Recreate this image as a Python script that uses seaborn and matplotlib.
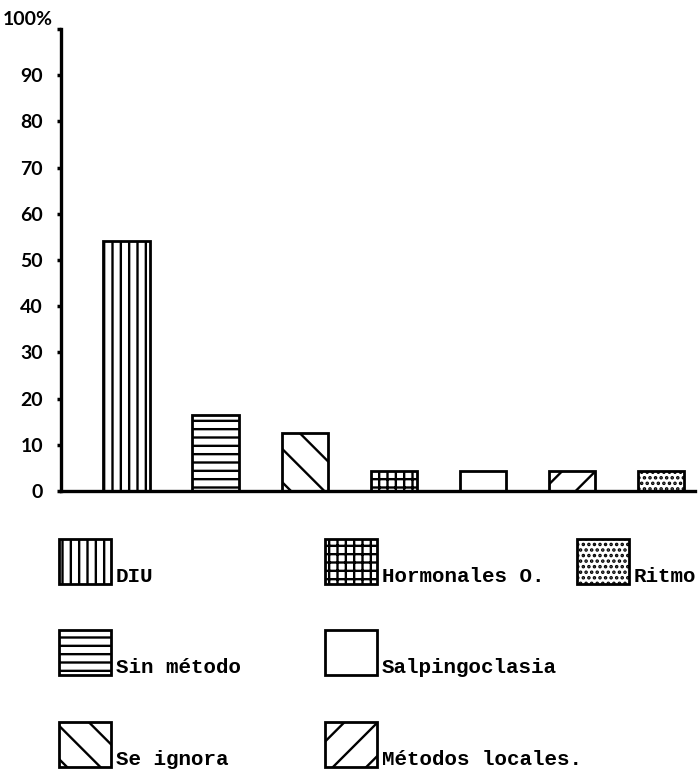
import numpy as np
import pandas as pd
import matplotlib
matplotlib.use("Agg")
import matplotlib.pyplot as plt
import seaborn as sns
from matplotlib.patches import Rectangle

# ---- data ----
categories = ["DIU", "Sin método", "Se ignora", "Hormonales O.",
              "Salpingoclasia", "Métodos locales.", "Ritmo"]
values = [54.2, 16.5, 12.5, 4.3, 4.3, 4.3, 4.4]
hatches = ["||", "--", "\\", "++", "", "/", "..."]
ytick_values = [0, 10, 20, 30, 40, 50, 60, 70, 80, 90]
ytick_labels = ["0", "10", "20", "30", "40", "50", "60", "70", "80", "90"]
top_label = "100%"
legend_columns = [["DIU", "Sin método", "Se ignora"],
                  ["Hormonales O.", "Salpingoclasia", "Métodos locales."],
                  ["Ritmo"]]

sns.set_theme(style="white")
plt.rcParams["font.family"] = ["Lato", "DejaVu Sans"]
plt.rcParams["hatch.linewidth"] = 1.7
plt.rcParams["hatch.color"] = "black"

W, H = 699, 773
fig = plt.figure(figsize=(W / 100, H / 100), dpi=100)
fig.patch.set_facecolor("white")

ax = fig.add_axes([61 / W, 1 - 491 / H, (695 - 61) / W, (491 - 29) / H])
df = pd.DataFrame({"cat": categories, "val": values})
sns.barplot(data=df, x="cat", y="val", ax=ax, color="white",
            edgecolor="black", linewidth=2.0, width=0.52, saturation=1)
for patch, h in zip(ax.patches, hatches):
    patch.set_hatch(h)
    patch.set_edgecolor("black")
    patch.set_facecolor("white")

ax.set_xlim(-0.735, 6.38)
ax.set_ylim(0, 100)
ax.set_xticks([])
ax.set_xlabel("")
ax.set_ylabel("")
ax.set_yticks(ytick_values + [100])
ax.set_yticklabels(ytick_labels + [""])
ax.tick_params(axis="y", left=True, length=3, width=2.5, color="black",
               labelsize=14, pad=10, labelcolor="black")
for lab in ax.get_yticklabels():
    lab.set_fontweight("bold")
for s in ["top", "right"]:
    ax.spines[s].set_visible(False)
for s in ["left", "bottom"]:
    ax.spines[s].set_color("black")
    ax.spines[s].set_linewidth(2.4)
ax.annotate(top_label, xy=(0, 100), xycoords=("axes fraction", "data"),
            xytext=(-8, 1), textcoords="offset pixels",
            ha="right", va="bottom", fontsize=14, fontweight="bold",
            color="black")

# ---- legend drawn in pixel coordinates ----
lax = fig.add_axes([0, 0, 1, 1])
lax.set_xlim(0, W)
lax.set_ylim(H, 0)
lax.axis("off")
hatch_of = dict(zip(categories, hatches))
col_x = [59, 325, 577]
row_top = [539, 630, 722]
bw, bh = 52, 45
for cx, col in zip(col_x, legend_columns):
    for ry, name in zip(row_top, col):
        lax.add_patch(Rectangle((cx, ry), bw, bh, facecolor="white",
                                edgecolor="black", linewidth=2.0,
                                hatch=hatch_of[name]))
        lax.text(cx + bw + 5, ry + bh - 2, name, ha="left", va="baseline",
                 fontsize=15, family="Liberation Mono", weight="bold",
                 color="black")

fig.savefig("out.png", dpi=100, facecolor="white")
